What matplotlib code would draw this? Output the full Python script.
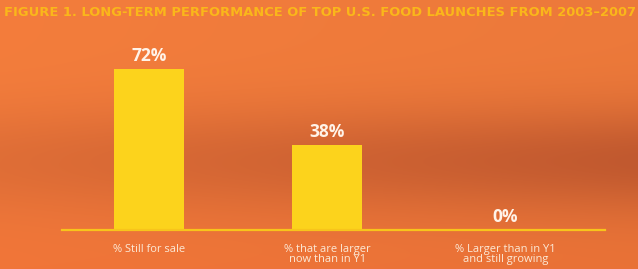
import matplotlib
matplotlib.use("Agg")
import matplotlib.pyplot as plt
from matplotlib import font_manager
import numpy as np

categories = ["% Still for sale", "% that are larger\nnow than in Y1", "% Larger than in Y1\nand still growing"]
values = [72, 38, 0]
value_labels = ["72%", "38%", "0%"]
title = "FIGURE 1. LONG-TERM PERFORMANCE OF TOP U.S. FOOD LAUNCHES FROM 2003\u20132007"

names = {f.name for f in font_manager.fontManager.ttflist}
cond = "Liberation Sans Narrow" if "Liberation Sans Narrow" in names else "DejaVu Sans"

fig = plt.figure(figsize=(6.38, 2.69), dpi=100)

# orange background with a darker band across the middle
bg = fig.add_axes([0, 0, 1, 1])
yy = np.linspace(0, 1, 270)[:, None]
xx = np.linspace(0, 1, 640)[None, :]
top = np.array([0.955, 0.49, 0.235])
mid = np.array([0.78, 0.36, 0.19])
bot = np.array([0.945, 0.46, 0.22])
w_mid = np.exp(-((yy - 0.6) / 0.2) ** 2) * (0.45 + 0.55 * xx)
w_bot = np.clip((yy - 0.6) / 0.4, 0, 1)
img = top * (1 - w_bot[..., None]) + bot * w_bot[..., None]
img = img * (1 - w_mid[..., None]) + mid * w_mid[..., None]
img = img * (1 - 0.03 * xx[..., None])
bg.imshow(np.clip(img, 0, 1), aspect="auto", extent=[0, 1, 1, 0])
bg.set_xlim(0, 1)
bg.set_ylim(1, 0)
bg.axis("off")

fig.text(0.502, 0.955, title, ha="center", va="center", color="#FAB71A",
         fontsize=9.35, fontweight="bold", family=cond)

ax = fig.add_axes([62 / 638, 39 / 269, 543 / 638, 190 / 269])
ax.patch.set_alpha(0)
x = np.arange(len(values))
bars = ax.bar(x, values, width=0.39, color="#FCD31C", zorder=2)
ax.set_xlim(-0.489, 2.56)
ax.set_ylim(0, 85)
for s in ["top", "left", "right"]:
    ax.spines[s].set_visible(False)
ax.spines["bottom"].set_color("#F8C41B")
ax.spines["bottom"].set_linewidth(1.6)
ax.set_yticks([])
ax.set_xticks(x)
ax.set_xticklabels(categories, color="#FCE9D6", fontsize=8, family="Open Sans",
                   linespacing=0.9)
ax.tick_params(axis="x", length=0, pad=10)
for xi, v, lab in zip(x, values, value_labels):
    ax.annotate(lab, (xi, v), xytext=(0, 3), textcoords="offset points",
                ha="center", va="bottom", color="#FFF3E8", fontsize=12.5,
                fontweight="bold", family="Open Sans")

fig.savefig("out.png", dpi=100)
